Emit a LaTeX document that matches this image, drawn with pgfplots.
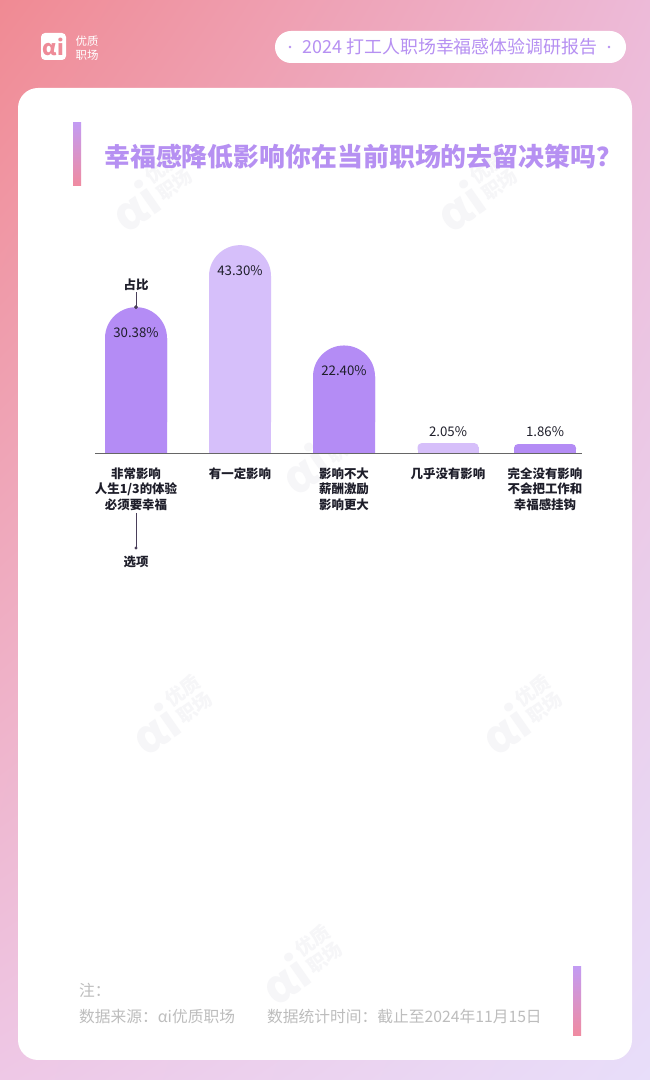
\documentclass[border=0pt]{standalone}
\usepackage{fontspec}
\setmainfont{Noto Sans CJK SC}
\usepackage{pgfplots}
\pgfplotsset{compat=1.18}
\usepackage{pgfplotstable}
\usetikzlibrary{shadings}

\definecolor{bgTL}{HTML}{F08A93}
\definecolor{bgTR}{HTML}{EDBAD8}
\definecolor{bgBL}{HTML}{EEC8E6}
\definecolor{bgBR}{HTML}{E8DEFA}
\definecolor{barDark}{HTML}{B48CF5}
\definecolor{barLight}{HTML}{D6BFFA}
\definecolor{titlePurple}{HTML}{B690F2}
\definecolor{accPurple}{HTML}{C39BF2}
\definecolor{accPink}{HTML}{F08BA0}
\definecolor{labelDark}{HTML}{1E1E2A}
\definecolor{dotDark}{HTML}{4A3F5A}
\definecolor{footGray}{HTML}{BDBDBD}
\definecolor{axisGray}{HTML}{666666}
\definecolor{wm}{HTML}{F6F6F8}
\definecolor{logoPink}{HTML}{EE8B98}

\pgfplotstableread{
x v
136 30.38
344 22.40
}\tallDark
\pgfplotstableread{
x v
240 43.30
}\tallLight
\pgfplotstableread{
x v
448 2.05
}\smallLight
\pgfplotstableread{
x v
545 1.86
}\smallDark

\newcommand{\wmark}[2]{%
  \node[rotate=35, text=wm, inner sep=0pt] at (#1,#2)
    {\fontsize{46}{46}\selectfont\bfseries αi\hspace{3bp}\raisebox{6bp}{\fontsize{19}{20}\selectfont\bfseries\shortstack{优质\\职场}}};}

\begin{document}
\begin{tikzpicture}[x=1bp,y=1bp]
\path[use as bounding box] (0,0) rectangle (650,1080);
\shade[shading=bilinear interpolation, upper left=bgTL, upper right=bgTR, lower left=bgBL, lower right=bgBR] (0,0) rectangle (650,1080);

% header logo
\fill[white, rounded corners=4bp] (41,1020) rectangle (66,1047);
\node[text=logoPink, inner sep=0pt, font=\fontsize{21}{21}\selectfont\bfseries] at (53.5,1033) {αi};
\node[text=white, align=center, inner sep=0pt, font=\fontsize{11.5}{13.5}\selectfont] at (87,1032) {优质\\职场};

% header pill
\fill[white, rounded corners=16bp] (275,1017) rectangle (626,1049);
\fill[titlePurple] (290,1033) circle (1.4bp);
\fill[titlePurple] (609,1033) circle (1.4bp);
\node[text=titlePurple, inner sep=0pt, font=\fontsize{18}{18}\selectfont] at (450,1033) {2024 打工人职场幸福感体验调研报告};

% card
\fill[white, rounded corners=20bp] (18,20) rectangle (632,992);

% watermarks
\wmark{150}{888}
\wmark{475}{888}
\wmark{170}{365}
\wmark{520}{365}
\wmark{320}{625}
\wmark{300}{115}

% title
\shade[top color=accPurple, bottom color=accPink] (73,894) rectangle (81,957);
\node[anchor=west, text=titlePurple, inner sep=0pt, font=\fontsize{26}{26}\selectfont\bfseries] at (104,923) {幸福感降低影响你在当前职场的去留决策吗？};

\begin{axis}[
  at={(95bp,627bp)}, anchor=south west,
  scale only axis, width=487bp, height=216bp,
  xmin=95, xmax=582, ymin=0, ymax=45,
  axis x line*=bottom, axis y line=none,
  axis line style={axisGray, line width=0.8bp},
  xtick={136,240,344,448,545},
  xticklabels={{非常影响\\人生1/3的体验\\必须要幸福},{有一定影响},{影响不大\\薪酬激励\\影响更大},{几乎没有影响},{完全没有影响\\不会把工作和\\幸福感挂钩}},
  major tick length=0pt,
  xticklabel style={align=center, font=\fontsize{12.5}{15.5}\selectfont\bfseries, text=labelDark, yshift=-11bp},
  clip=false,
  /pgf/number format/assume math mode=true,
]
% square lower parts
\addplot[ybar, bar width=62bp, bar shift=0pt, fill=barDark, draw=none] table[x=x, y expr=\thisrow{v}-6.46]{\tallDark};
\addplot[ybar, bar width=62bp, bar shift=0pt, fill=barLight, draw=none] table[x=x, y expr=\thisrow{v}-6.46]{\tallLight};
\addplot[ybar, bar width=61bp, bar shift=0pt, fill=barLight, draw=none] table[x=x, y expr=\thisrow{v}-0.85]{\smallLight};
\addplot[ybar, bar width=62bp, bar shift=0pt, fill=barDark, draw=none] table[x=x, y expr=\thisrow{v}-0.85]{\smallDark};
% rounded full bars with labels
\addplot[ybar, bar width=62bp, bar shift=0pt, fill=barDark, draw=none, rounded corners=31bp,
  nodes near coords={\pgfmathprintnumber[fixed,fixed zerofill,precision=2]{\pgfplotspointmeta}\%},
  every node near coord/.append style={anchor=center, yshift=-25bp, font=\fontsize{13.3}{13}\selectfont, text=labelDark, rounded corners=0pt}]
  table[x=x, y=v]{\tallDark};
\addplot[ybar, bar width=62bp, bar shift=0pt, fill=barLight, draw=none, rounded corners=31bp,
  nodes near coords={\pgfmathprintnumber[fixed,fixed zerofill,precision=2]{\pgfplotspointmeta}\%},
  every node near coord/.append style={anchor=center, yshift=-25bp, font=\fontsize{13.3}{13}\selectfont, text=labelDark, rounded corners=0pt}]
  table[x=x, y=v]{\tallLight};
\addplot[ybar, bar width=61bp, bar shift=0pt, fill=barLight, draw=none, rounded corners=4bp,
  nodes near coords={\pgfmathprintnumber[fixed,fixed zerofill,precision=2]{\pgfplotspointmeta}\%},
  every node near coord/.append style={anchor=center, yshift=12bp, font=\fontsize{13.3}{13}\selectfont, text=labelDark, rounded corners=0pt}]
  table[x=x, y=v]{\smallLight};
\addplot[ybar, bar width=62bp, bar shift=0pt, fill=barDark, draw=none, rounded corners=4bp,
  nodes near coords={\pgfmathprintnumber[fixed,fixed zerofill,precision=2]{\pgfplotspointmeta}\%},
  every node near coord/.append style={anchor=center, yshift=12bp, font=\fontsize{13.3}{13}\selectfont, text=labelDark, rounded corners=0pt}]
  table[x=x, y=v]{\smallDark};
% annotation 占比
\draw[dotDark, line width=0.7bp] (axis cs:136,30.38) -- ([yshift=15bp]axis cs:136,30.38) node[above, inner sep=1.5bp, text=labelDark, font=\fontsize{12.5}{13}\selectfont\bfseries] {占比};
\addplot[only marks, mark=*, mark size=1.7bp, color=dotDark] coordinates {(136,30.38)};
\end{axis}

% annotation 选项
\draw[dotDark, line width=0.7bp] (136,567) -- (136,532);
\fill[dotDark] (136,532) circle (1.7bp);
\node[text=labelDark, inner sep=0pt, font=\fontsize{12.5}{13}\selectfont\bfseries] at (136,518) {选项};

% footer
\node[anchor=west, text=footGray, inner sep=0pt, font=\fontsize{15.8}{16}\selectfont] at (79,90) {注：};
\node[anchor=west, text=footGray, inner sep=0pt, font=\fontsize{15.8}{16}\selectfont] at (79,63) {数据来源：αi优质职场};
\node[anchor=west, text=footGray, inner sep=0pt, font=\fontsize{15.8}{16}\selectfont] at (267,63) {数据统计时间：截止至2024年11月15日};
\shade[top color=accPurple, bottom color=accPink] (573,44) rectangle (581,113);
\end{tikzpicture}
\end{document}
